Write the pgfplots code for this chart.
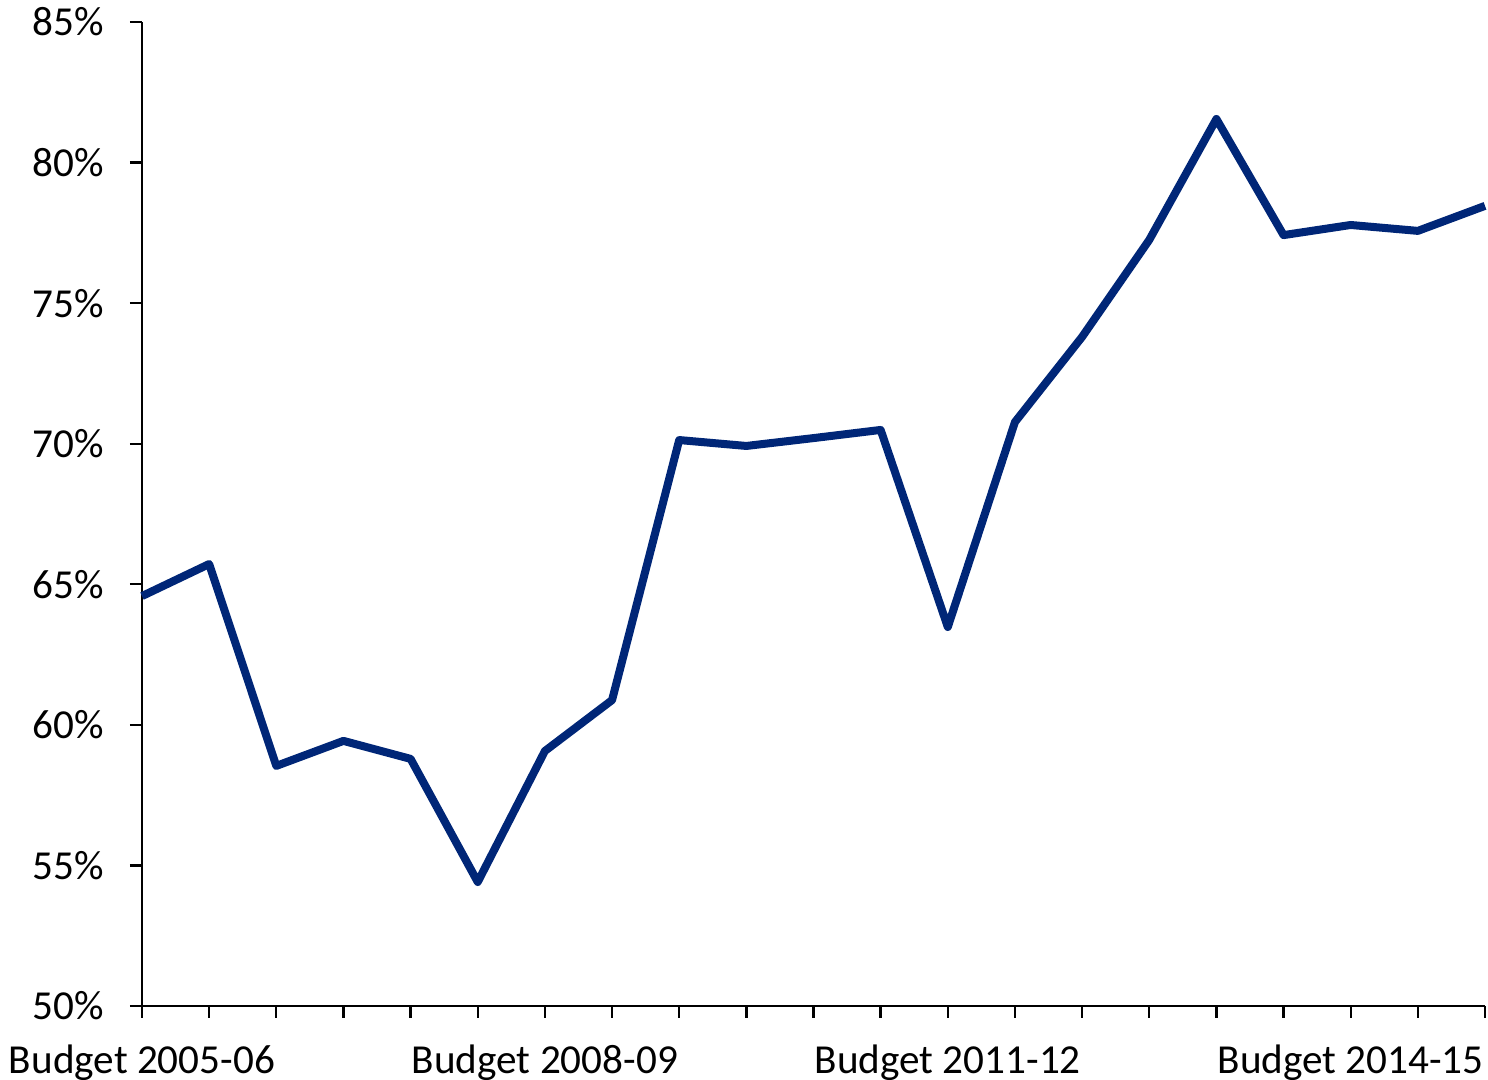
\documentclass[border=0pt]{standalone}
\usepackage{pgfplots}
\pgfplotsset{compat=1.18}
\usepackage{fontspec}
\setmainfont{Carlito}
\definecolor{navy}{RGB}{0,38,119}
\begin{document}
\begin{tikzpicture}
\begin{axis}[
  scale only axis,
  width=335.75pt, height=246pt,
  xmin=0, xmax=20, ymin=50, ymax=85,
  axis x line*=bottom, axis y line*=left,
  axis line style={line width=0.6pt, -},
  xtick={0,...,20},
  xticklabels={Budget 2005-06,,,,,,Budget 2008-09,,,,,,Budget 2011-12,,,,,,Budget 2014-15,,},
  ytick={50,55,...,85},
  yticklabels={50\%,55\%,60\%,65\%,70\%,75\%,80\%,85\%},
  tick align=outside, major tick length=3pt,
  tick style={line width=0.6pt, black},
  ticklabel style={font=\fontsize{10.3}{12}\selectfont},
  yticklabel style={xshift=-3pt},
  xticklabel style={yshift=-3.3pt},
  clip=false,
]
\addplot[navy, line width=2pt, line join=round] coordinates {
(0,64.58) (1,65.72) (2,58.54) (3,59.43) (4,58.79) (5,54.41) (6,59.07) (7,60.88)
(8,70.13) (9,69.92) (10,70.2) (11,70.49) (12,63.48) (13,70.77) (14,73.8)
(15,77.25) (16,81.55) (17,77.42) (18,77.78) (19,77.57) (20,78.46)
};
\end{axis}
\pgfresetboundingbox
\path[use as bounding box] (-35.5pt,-18.5pt) rectangle (336.5pt,251.5pt);
\end{tikzpicture}
\end{document}
